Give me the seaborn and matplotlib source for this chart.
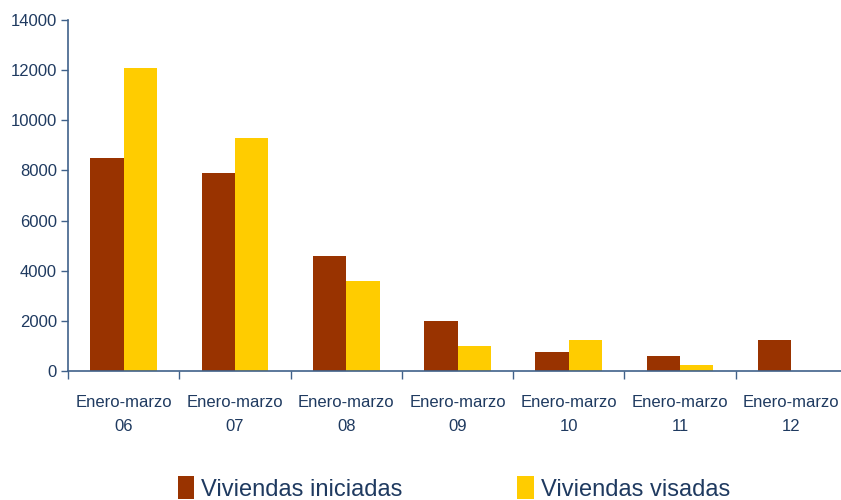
import matplotlib.pyplot as plt
import numpy as np
import pandas as pd
import seaborn as sns

periods = ["06", "07", "08", "09", "10", "11", "12"]
iniciadas = [8500, 7900, 4600, 2000, 750, 600, 1250]
visadas = [12100, 9300, 3600, 1000, 1250, 250, np.nan]
series_names = ["Viviendas iniciadas", "Viviendas visadas"]
colors = ["#993300", "#FFCC00"]
y_ticks = [0, 2000, 4000, 6000, 8000, 10000, 12000, 14000]

NAVY = "#1f3a60"
AXIS = "#40618a"

sns.set_style("white")
plt.rcParams["font.family"] = ["Liberation Sans Narrow", "Liberation Sans", "DejaVu Sans"]

labels = [f"Enero-marzo\n{p}" for p in periods]
data = pd.DataFrame({
    "periodo": labels * 2,
    "valor": iniciadas + visadas,
    "serie": [series_names[0]] * len(labels) + [series_names[1]] * len(labels),
})

fig = plt.figure(figsize=(8.41, 5), dpi=100)
ax = fig.add_axes([68 / 841, 129 / 500, 779 / 841, 351 / 500])

sns.barplot(
    data=data,
    x="periodo",
    y="valor",
    hue="serie",
    palette=colors,
    width=0.6,
    saturation=1,
    linewidth=0,
    ax=ax,
)

ax.set_ylim(0, 14000)
ax.set_xlim(-0.5, len(labels) - 0.5)
ax.set_yticks(y_ticks)
ax.set_yticklabels([str(t) for t in y_ticks], color=NAVY, fontsize=12)
ax.set_xticks(range(len(labels)))
ax.set_xticklabels(labels, color=NAVY, fontsize=12, linespacing=1.8)
ax.set_xticks(np.arange(-0.5, len(labels), 1), minor=True)
ax.tick_params(axis="x", which="major", bottom=False, length=0, pad=17)
ax.tick_params(axis="x", which="minor", bottom=True, length=6, width=1,
               color=AXIS, direction="out")
ax.tick_params(axis="y", left=True, length=5, width=1, color=AXIS,
               direction="out", pad=3)
ax.set_xlabel("")
ax.set_ylabel("")

for side in ["top", "right"]:
    ax.spines[side].set_visible(False)
for side in ["left", "bottom"]:
    ax.spines[side].set_color(AXIS)
    ax.spines[side].set_linewidth(1.2)

ax.legend(
    loc="lower center",
    bbox_to_anchor=(0.5 * 841 / 779 - 68 / 779 + 0.043, -0.43),
    ncol=2,
    frameon=False,
    fontsize=17,
    handlelength=0.7,
    handleheight=1.1,
    handletextpad=0.3,
    columnspacing=4.85,
    labelcolor=NAVY,
)

fig.savefig("out.png", dpi=100)
